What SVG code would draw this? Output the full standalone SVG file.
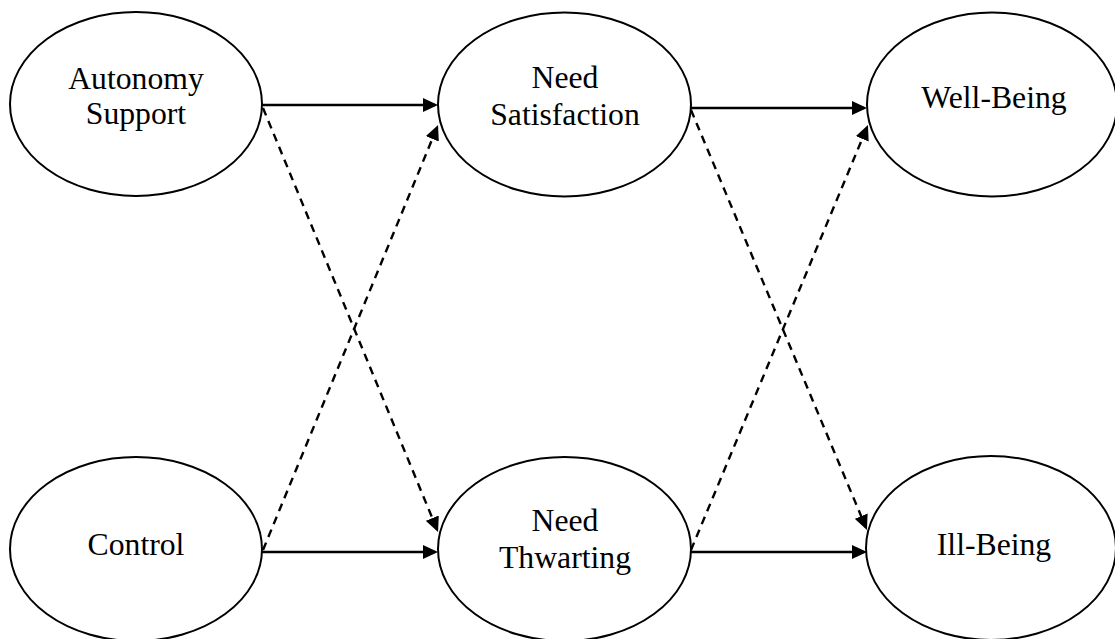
<svg xmlns="http://www.w3.org/2000/svg" width="1115" height="639" viewBox="0 0 1115 639">
<style>
.node{fill:#fff;stroke:#000;stroke-width:2}
.lbl{font-family:"Liberation Serif","Times New Roman",serif;font-size:31.7px;fill:#000;text-anchor:middle}
.solid{stroke:#000;stroke-width:2.4;fill:none;marker-end:url(#ah)}
.dash{stroke:#000;stroke-width:2.4;fill:none;stroke-dasharray:8 6;marker-end:url(#ah)}
</style>
<defs>
<marker id="ah" viewBox="0 0 15 14" refX="12" refY="7" markerWidth="15" markerHeight="14" orient="auto" markerUnits="userSpaceOnUse">
<path d="M0,0 L15,7 L0,14 Z" fill="#000"/>
</marker>
</defs>
<rect width="1115" height="639" fill="#fff"/>
<g id="connectors">
<line class="solid" x1="262" y1="105" x2="435" y2="105"/>
<line class="solid" x1="691" y1="108" x2="864" y2="108"/>
<line class="solid" x1="262" y1="552" x2="435" y2="552"/>
<line class="solid" x1="691" y1="552" x2="864" y2="552"/>
<line class="dash" x1="263" y1="108" x2="436.9" y2="529.2"/>
<line class="dash" x1="263" y1="550" x2="436.9" y2="127.8"/>
<line class="dash" x1="691" y1="110" x2="865.8" y2="527.2"/>
<line class="dash" x1="691" y1="550" x2="866.8" y2="127.8"/>
</g>
<g id="autonomy-support">
<ellipse class="node" cx="136" cy="104" rx="126" ry="92"/>
<text class="lbl" x="136" y="89">Autonomy</text>
<text class="lbl" x="136" y="124">Support</text>
</g>
<g id="need-satisfaction">
<ellipse class="node" cx="564.5" cy="104.5" rx="126.5" ry="92"/>
<text class="lbl" x="565" y="88">Need</text>
<text class="lbl" x="565" y="125">Satisfaction</text>
</g>
<g id="well-being">
<ellipse class="node" cx="992" cy="104.5" rx="125" ry="92"/>
<text class="lbl" x="994" y="108">Well-Being</text>
</g>
<g id="control">
<ellipse class="node" cx="136" cy="549" rx="126" ry="92"/>
<text class="lbl" x="136" y="555">Control</text>
</g>
<g id="need-thwarting">
<ellipse class="node" cx="564.5" cy="549" rx="126.5" ry="92"/>
<text class="lbl" x="565" y="531">Need</text>
<text class="lbl" x="565" y="568">Thwarting</text>
</g>
<g id="ill-being">
<ellipse class="node" cx="991" cy="548" rx="125" ry="92"/>
<text class="lbl" x="994" y="555">Ill-Being</text>
</g>
</svg>
